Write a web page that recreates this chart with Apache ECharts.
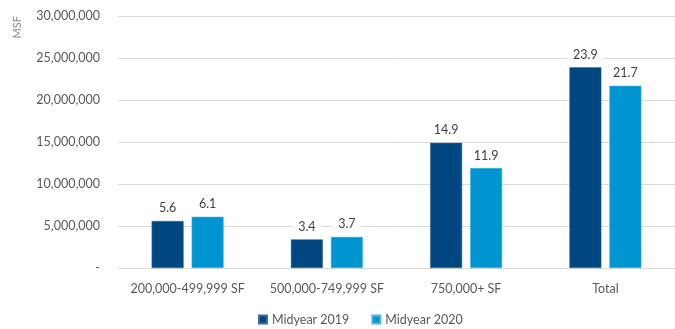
<!DOCTYPE html>
<html><head><meta charset="utf-8">
<script src="https://cdn.jsdelivr.net/npm/echarts@6/dist/echarts.min.js"></script>
<style>html,body{margin:0;padding:0;background:#fff}#c{width:675px;height:329px}</style>
</head><body><div id="c"></div>
<script>
const categories = ['200,000-499,999 SF', '500,000-749,999 SF', '750,000+ SF', 'Total'];
const seriesNames = ['Midyear 2019', 'Midyear 2020'];
const midyear2019 = [5600000, 3400000, 14900000, 23900000];
const midyear2020 = [6100000, 3700000, 11900000, 21700000];
const yTicks = [0, 5000000, 10000000, 15000000, 20000000, 25000000, 30000000];

const font = 'Lato, "Liberation Sans", sans-serif';
const chart = echarts.init(document.getElementById('c'), null, {renderer: 'canvas'});
const labelCfg = {
  show: true, position: 'top', distance: 4,
  formatter: p => (p.value / 1e6).toFixed(1),
  color: '#404040', fontSize: 12.5, fontFamily: font,
  backgroundColor: '#ffffff', padding: [2, 6]
};
chart.setOption({
  animation: false,
  textStyle: {fontFamily: font},
  grid: {left: 118, right: 0, top: 16, bottom: 61, containLabel: false},
  legend: {
    top: 308, left: 253, itemWidth: 8, itemHeight: 8, itemGap: 22,
    icon: 'rect', textStyle: {color: '#595959', fontSize: 12.5, fontFamily: font},
    data: seriesNames
  },
  graphic: [{
    type: 'text', left: 12, top: 16, rotation: Math.PI / 2,
    style: {text: 'MSF', fill: '#8c8c8c', font: '11px ' + font}
  }],
  xAxis: {
    type: 'category', data: categories,
    axisLine: {lineStyle: {color: '#d9d9d9', width: 1}},
    axisTick: {show: false},
    axisLabel: {color: '#595959', fontSize: 12.5, fontFamily: font, margin: 14, interval: 0}
  },
  yAxis: {
    type: 'value', min: yTicks[0], max: yTicks[yTicks.length - 1], interval: 5000000,
    axisLine: {show: false}, axisTick: {show: false},
    splitLine: {lineStyle: {color: '#d9d9d9', width: 1}},
    axisLabel: {
      color: '#595959', fontSize: 12.5, fontFamily: font, margin: 18,
      formatter: v => v === 0 ? '-' : v.toLocaleString('en-US')
    }
  },
  series: [
    {name: seriesNames[0], type: 'bar', data: midyear2019, barWidth: 32, barGap: '25%',
     itemStyle: {color: '#004680', borderColor: '#3a6f9c', borderWidth: 0.5}, label: labelCfg},
    {name: seriesNames[1], type: 'bar', data: midyear2020, barWidth: 32,
     itemStyle: {color: '#0095d0', borderColor: '#4fb6e0', borderWidth: 0.5}, label: labelCfg}
  ]
});
</script></body></html>
